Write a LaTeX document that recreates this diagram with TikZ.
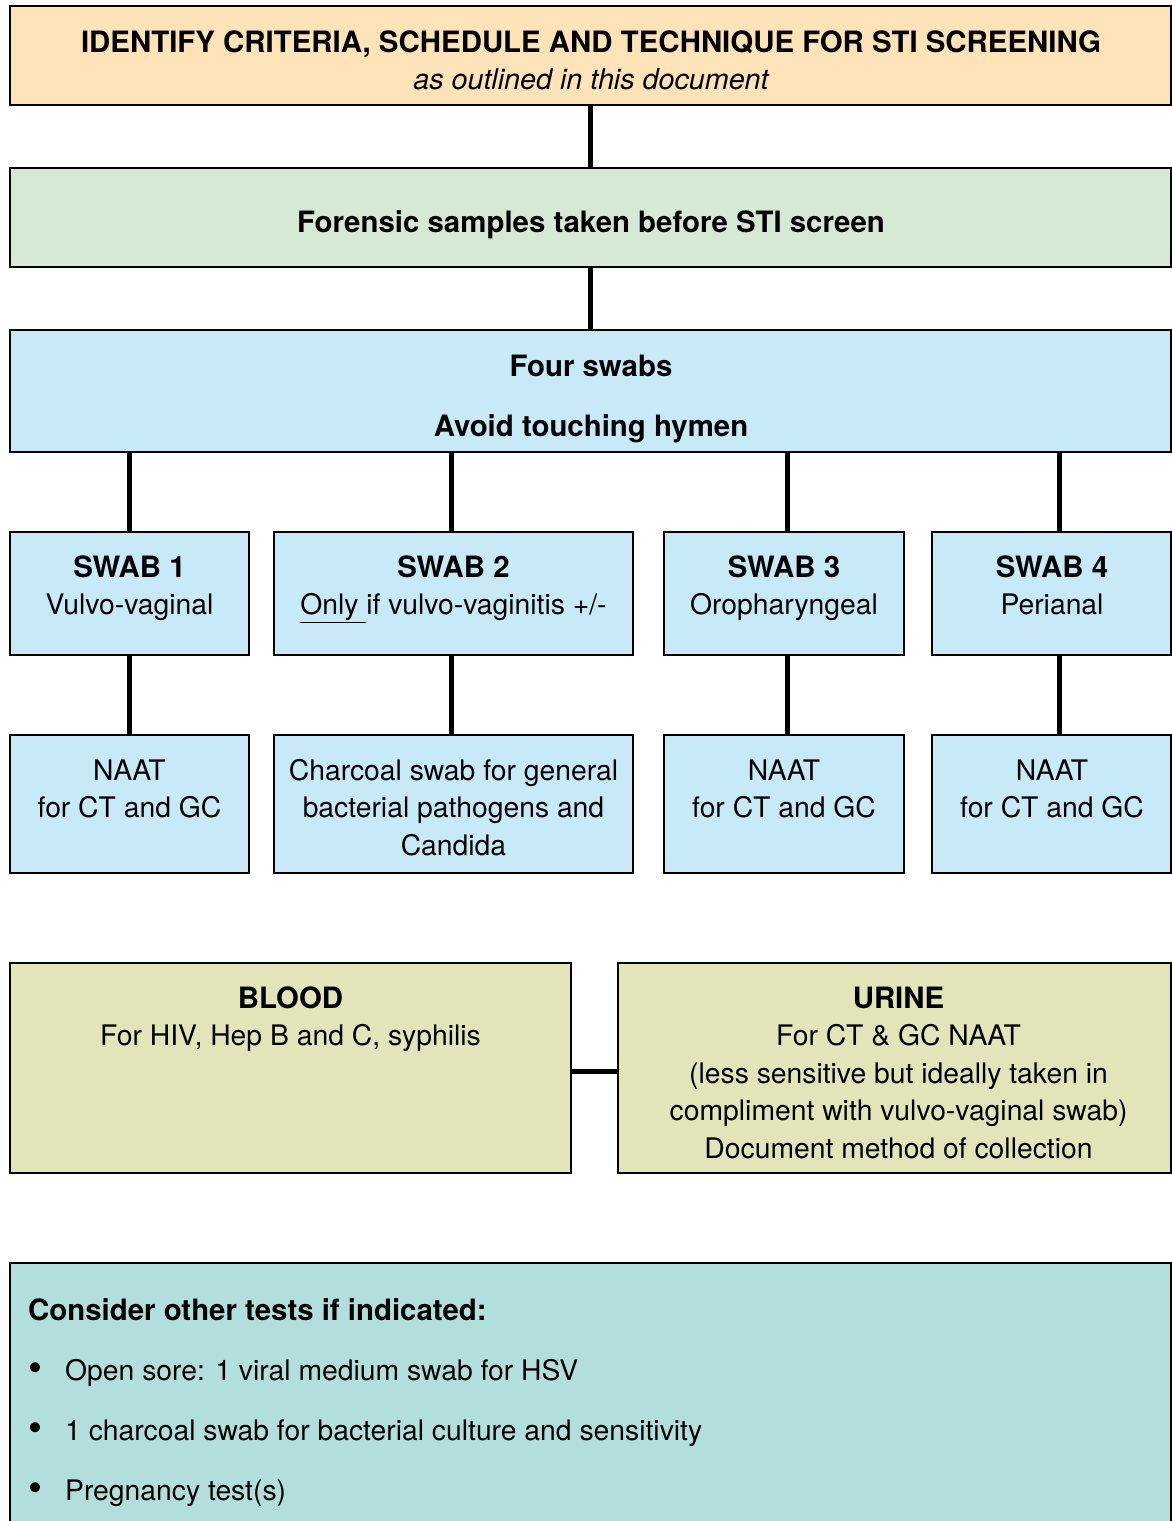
\documentclass[tikz,border=0pt]{standalone}
\usepackage{fontspec}
\setmainfont{TeX Gyre Heros}
\usetikzlibrary{calc}

\definecolor{peach}{RGB}{254,226,184}
\definecolor{mint}{RGB}{214,233,212}
\definecolor{sky}{RGB}{199,233,248}
\definecolor{olive}{RGB}{227,228,186}
\definecolor{teal}{RGB}{178,222,220}

% stacked lines whose reference point is the first baseline
\newcommand{\cstack}[1]{\begin{tabular}[t]{@{}c@{}}#1\end{tabular}}
\newcommand{\lstack}[1]{\begin{tabular}[t]{@{}l@{}}#1\end{tabular}}
% bold headings are set slightly larger than the body text
\newcommand{\hd}[1]{{\fontsize{29.4}{37.5}\selectfont\bfseries #1}}
\newcommand{\bul}{\makebox[37pt][l]{\hspace{0pt}\raisebox{-1.5pt}{\fontsize{40}{40}\selectfont\textbullet}}}

\tikzset{
  box/.style={draw=black, line width=2.5pt, inner sep=0pt},
  txt/.style={anchor=base, inner sep=0pt, font=\fontsize{28.3}{37.5}\selectfont},
  link/.style={draw=black, line width=5pt},
}

\begin{document}
\begin{tikzpicture}[x=1pt,y=-1pt]
\useasboundingbox (0,0) rectangle (1172,1521);

% header boxes
\node[box, fill=peach, minimum width=1161pt, minimum height=99pt] (top) at (590.5,55.5) {};
\node[box, fill=mint, minimum width=1161pt, minimum height=99pt] (forensic) at (590.5,217.5) {};
\node[box, fill=sky, minimum width=1161pt, minimum height=122pt] (four) at (590.5,391) {};

\node[txt] (toptxt) at (591,52) {\cstack{\hd{IDENTIFY CRITERIA, SCHEDULE AND TECHNIQUE FOR STI SCREENING}\\ {\fontsize{28.7}{37.5}\selectfont\itshape as outlined in this document}}};
\node[txt] (fortxt) at (591,232) {\hd{Forensic samples taken before STI screen}};
\node[txt] (fourtxt) at (591,376) {\cstack{\hd{Four swabs}\\[22.5pt] \hd{Avoid touching hymen}}};

% swab boxes
\node[box, fill=sky, minimum width=239pt, minimum height=123pt] (s1) at (129.5,593.5) {};
\node[box, fill=sky, minimum width=359pt, minimum height=123pt] (s2) at (453.5,593.5) {};
\node[box, fill=sky, minimum width=240pt, minimum height=123pt] (s3) at (784,593.5) {};
\node[box, fill=sky, minimum width=239pt, minimum height=123pt] (s4) at (1051.5,593.5) {};

\node[txt] (s1txt) at (129.5,577) {\cstack{\hd{SWAB 1}\\ Vulvo-vaginal}};
\node[txt] (s2txt) at (453.5,577) {\cstack{\hd{SWAB 2}\\ \underline{Only\ }if vulvo-vaginitis +/-}};
\node[txt] (s3txt) at (784,577) {\cstack{\hd{SWAB 3}\\ Oropharyngeal}};
\node[txt] (s4txt) at (1052,577) {\cstack{\hd{SWAB 4}\\ Perianal}};

% test boxes
\node[box, fill=sky, minimum width=239pt, minimum height=138pt] (n1) at (129.5,804) {};
\node[box, fill=sky, minimum width=359pt, minimum height=138pt] (n2) at (453.5,804) {};
\node[box, fill=sky, minimum width=240pt, minimum height=138pt] (n3) at (784,804) {};
\node[box, fill=sky, minimum width=239pt, minimum height=138pt] (n4) at (1051.5,804) {};

\node[txt] (n1txt) at (129.5,780) {\cstack{NAAT\\ for CT and GC}};
\node[txt] (n2txt) at (453.5,780) {\cstack{Charcoal swab for general\\ bacterial pathogens and\\ Candida}};
\node[txt] (n3txt) at (784,780) {\cstack{NAAT\\ for CT and GC}};
\node[txt] (n4txt) at (1052,780) {\cstack{NAAT\\ for CT and GC}};

% blood and urine
\node[box, fill=olive, minimum width=561pt, minimum height=210pt] (blood) at (290.5,1068) {};
\node[box, fill=olive, minimum width=553pt, minimum height=210pt] (urine) at (894.5,1068) {};

\node[txt] (bloodtxt) at (290.5,1008) {\cstack{\hd{BLOOD}\\ For HIV, Hep B and C, syphilis}};
\node[txt] (urinetxt) at (898.5,1008) {\cstack{\hd{URINE}\\ For CT \& GC NAAT\\ (less sensitive but ideally taken in\\ compliment with vulvo-vaginal swab)\\ Document method of collection}};

% other tests
\node[box, fill=teal, minimum width=1161pt, minimum height=282pt] (other) at (590.5,1404) {};
\node[txt, anchor=base west] (othertxt) at (28,1320) {\lstack{\hd{Consider other tests if indicated:}\\[22.5pt]
  \bul Open sore: 1 viral medium swab for HSV\\[22.5pt]
  \bul 1 charcoal swab for bacterial culture and sensitivity\\[22.5pt]
  \bul Pregnancy test(s)}};

% connectors
\draw[link] (top.south) -- (forensic.north);
\draw[link] (forensic.south) -- (four.north);
\draw[link] (s1.north |- four.south) -- (s1.north);
\draw[link] ([xshift=-2.5pt]s2.north |- four.south) -- ([xshift=-2.5pt]s2.north);
\draw[link] ([xshift=3pt]s3.north |- four.south) -- ([xshift=3pt]s3.north);
\draw[link] ([xshift=7.5pt]s4.north |- four.south) -- ([xshift=7.5pt]s4.north);
\draw[link] (s1.south) -- (n1.north);
\draw[link] ([xshift=-2.5pt]s2.south) -- ([xshift=-2.5pt]n2.north);
\draw[link] ([xshift=3pt]s3.south) -- ([xshift=3pt]n3.north);
\draw[link] ([xshift=7.5pt]s4.south) -- ([xshift=7.5pt]n4.north);
\draw[link] ([yshift=-3pt]blood.east) -- ([yshift=-3pt]urine.west);
\end{tikzpicture}
\end{document}
